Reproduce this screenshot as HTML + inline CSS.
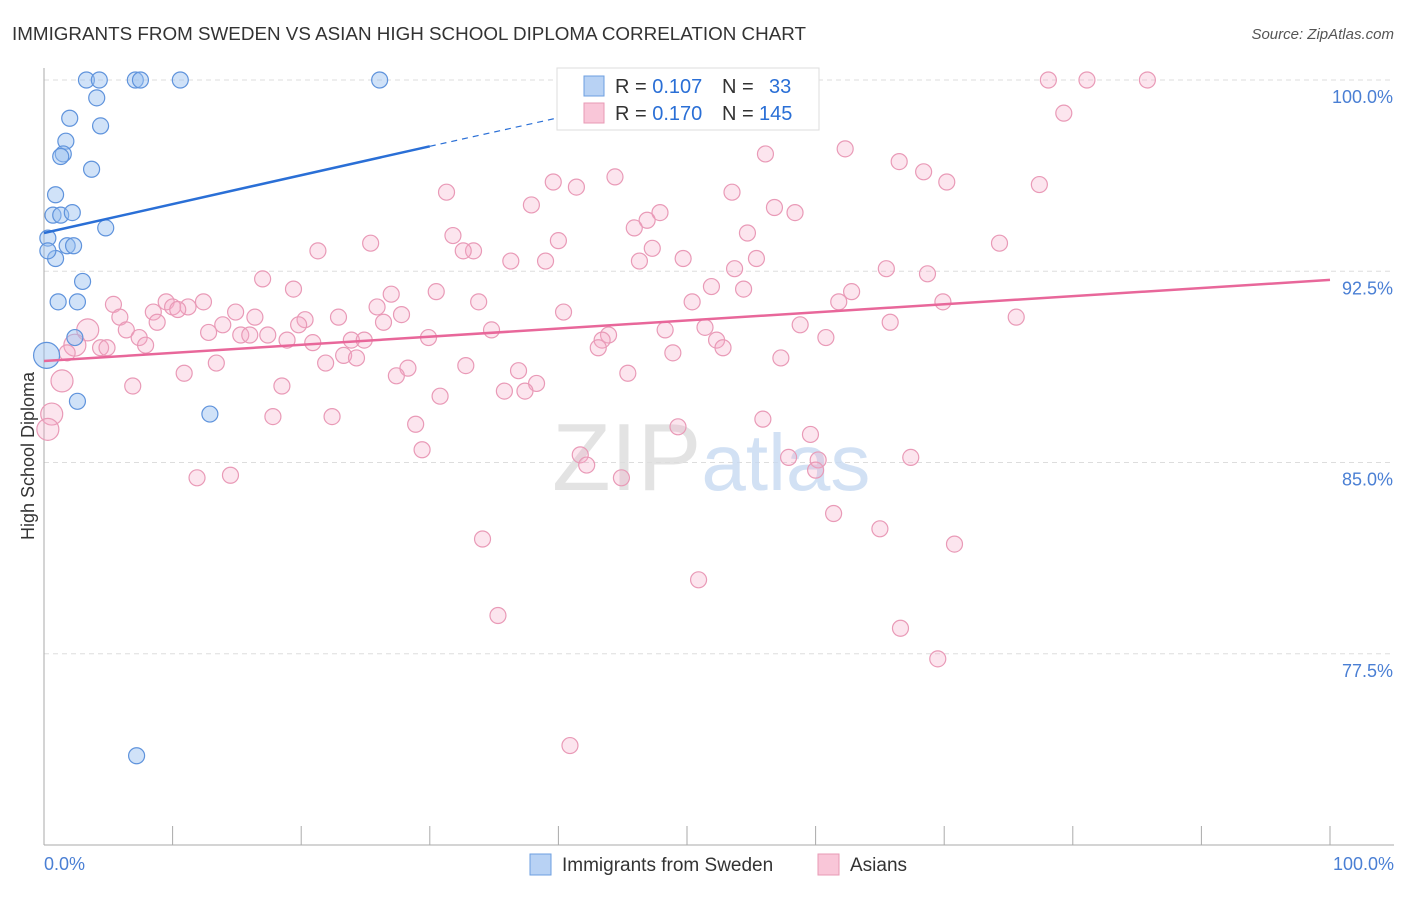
<!DOCTYPE html>
<html><head><meta charset="utf-8"><style>
body{margin:0;background:#fff;font-family:"Liberation Sans",sans-serif;}
svg text{font-family:"Liberation Sans",sans-serif;}
</style></head><body>
<svg id="chart" width="1406" height="892" viewBox="0 0 1406 892" xmlns="http://www.w3.org/2000/svg">
<text x="12" y="40" font-size="18" fill="#333" textLength="794" lengthAdjust="spacingAndGlyphs">IMMIGRANTS FROM SWEDEN VS ASIAN HIGH SCHOOL DIPLOMA CORRELATION CHART</text>
<text x="1394" y="39" font-size="15" fill="#555" text-anchor="end" font-style="italic">Source: ZipAtlas.com</text>
<text transform="translate(34,456) rotate(-90)" font-size="18" fill="#333" text-anchor="middle">High School Diploma</text>
<g id="grid"></g>
<text x="552" y="490" font-size="96" fill="#ddd" font-family="Liberation Serif" opacity="0.8">ZIP<tspan fill="#c8daf2" font-family="Liberation Sans" font-size="80">atlas</tspan></text>
<g id="marks"></g>
<g>
<rect x="557" y="68" width="262" height="62" fill="#fff" stroke="#ddd"/>
<rect x="584" y="76" width="20" height="20" fill="#b8d2f4" stroke="#6d9fe0"/>
<rect x="584" y="103" width="20" height="20" fill="#f9c6d8" stroke="#e89ab5"/>
<text x="615" y="93" font-size="20" fill="#333">R = <tspan fill="#2a6fd6">0.107</tspan><tspan x="722">N = </tspan><tspan x="769" fill="#2a6fd6">33</tspan></text>
<text x="615" y="120" font-size="20" fill="#333">R = <tspan fill="#2a6fd6">0.170</tspan><tspan x="722">N = </tspan><tspan x="759" fill="#2a6fd6">145</tspan></text>
</g>
<g>
<rect x="530" y="854" width="21" height="21" fill="#b8d2f4" stroke="#6d9fe0"/>
<text x="562" y="871" font-size="19" fill="#333">Immigrants from Sweden</text>
<rect x="818" y="854" width="21" height="21" fill="#f9c6d8" stroke="#e89ab5"/>
<text x="850" y="871" font-size="19" fill="#333">Asians</text>
</g>
</svg>
<script>
const yTicks=[100,92.5,85,77.5];
const yTickLabels=["100.0%","92.5%","85.0%","77.5%"];
const xTickLabels=["0.0%","100.0%"];
const blueX=[3.3,4.3,7.1,7.5,10.6,26.1,4.1,2.0,4.4,1.7,1.5,1.3,3.7,0.9,0.7,1.3,2.2,4.8,0.3,1.8,2.3,0.9,0.3,3.0,1.1,2.6,2.4,0.2,2.6,12.9,7.2];
const blueY=[100,100,100,100,100,100,99.3,98.5,98.2,97.6,97.1,97.0,96.5,95.5,94.7,94.7,94.8,94.2,93.8,93.5,93.5,93.0,93.3,92.1,91.3,91.3,89.9,89.2,87.4,86.9,73.5];
const blueBig=[27];
const pinkX=[78.1,81.1,85.8,79.3,56.1,62.3,66.5,68.4,70.2,77.4,44.4,39.6,41.4,31.3,37.9,53.5,56.8,58.4,47.9,46.9,45.9,54.7,31.8,40.0,25.4,74.3,47.3,21.3,33.4,32.6,55.4,49.7,36.3,39.0,46.3,53.7,65.5,68.7,17.0,51.9,54.4,62.8,19.4,30.5,27.0,33.8,50.4,61.8,69.9,5.4,9.5,12.4,10.0,11.2,10.4,25.9,8.5,14.9,40.4,27.8,75.6,5.9,16.4,20.3,22.9,8.8,13.9,26.4,19.8,65.8,58.8,6.4,3.4,12.8,34.8,48.3,51.4,17.4,15.3,16.0,29.9,43.9,60.8,43.4,7.4,18.9,20.9,23.9,24.9,52.3,2.4,4.4,7.9,4.9,43.1,52.8,1.8,23.3,24.3,48.9,57.3,21.9,32.8,13.4,28.3,36.9,10.9,27.4,45.4,1.4,38.3,6.9,18.5,35.8,37.4,30.8,55.9,17.8,22.4,28.9,49.3,59.6,0.6,0.3,29.4,41.7,57.9,67.4,60.2,42.2,60.0,14.5,11.9,44.9,61.4,65.0,34.1,70.8,50.9,35.3,66.6,69.5,40.9];
const pinkY=[100,100,100,98.7,97.1,97.3,96.8,96.4,96.0,95.9,96.2,96.0,95.8,95.6,95.1,95.6,95.0,94.8,94.8,94.5,94.2,94.0,93.9,93.7,93.6,93.6,93.4,93.3,93.3,93.3,93.0,93.0,92.9,92.9,92.9,92.6,92.6,92.4,92.2,91.9,91.8,91.7,91.8,91.7,91.6,91.3,91.3,91.3,91.3,91.2,91.3,91.3,91.1,91.1,91.0,91.1,90.9,90.9,90.9,90.8,90.7,90.7,90.7,90.6,90.7,90.5,90.4,90.5,90.4,90.5,90.4,90.2,90.2,90.1,90.2,90.2,90.3,90.0,90.0,90.0,89.9,90.0,89.9,89.8,89.9,89.8,89.7,89.8,89.8,89.8,89.6,89.5,89.6,89.5,89.5,89.5,89.3,89.2,89.1,89.3,89.1,88.9,88.8,88.9,88.7,88.6,88.5,88.4,88.5,88.2,88.1,88.0,88.0,87.8,87.8,87.6,86.7,86.8,86.8,86.5,86.4,86.1,86.9,86.3,85.5,85.3,85.2,85.2,85.1,84.9,84.7,84.5,84.4,84.4,83.0,82.4,82.0,81.8,80.4,79.0,78.5,77.3,73.9];
const pinkBig=[72,90,109,122,123];
const blueTrend=[[0,94.0],[30,97.4],[42.5,98.8]];
const pinkTrend=[[0,88.98],[100,92.16]];

const NS="http://www.w3.org/2000/svg";
const sx=v=>44+v*12.86;
const sy=v=>80+(100-v)*25.5;
function mk(tag,attrs,parent){const e=document.createElementNS(NS,tag);for(const k in attrs)e.setAttribute(k,attrs[k]);parent.appendChild(e);return e;}
const grid=document.getElementById('grid');
const marks=document.getElementById('marks');
yTicks.forEach((t,i)=>{
  const l=mk('line',{x1:44,x2:1394,y1:sy(t),y2:sy(t),stroke:'#ddd','stroke-dasharray':'5,4'},grid);
  
  
  const tx=mk('text',{x:1393,y:sy(t)+23,'font-size':18,fill:'#4a7fd4','text-anchor':'end'},grid);
  tx.textContent=yTickLabels[i];
  
  
});
const ax=mk('line',{x1:44,x2:44,y1:68,y2:845,stroke:'#aaa'},grid);


const bx=mk('line',{x1:44,x2:1394,y1:845,y2:845,stroke:'#aaa'},grid);


for(let i=0;i<=10;i++){
  const t=mk('line',{x1:sx(i*10),x2:sx(i*10),y1:826,y2:845,stroke:'#aaa'},grid);
  
  
}
[[0,'start',44],[1,'end',1394]].forEach(([i,a,x])=>{
  const t=mk('text',{x:x,y:870,'font-size':18,fill:'#4a7fd4','text-anchor':a},grid);
  t.textContent=xTickLabels[i];
  
  
});
pinkX.forEach((x,i)=>{
  const c=mk('circle',{cx:sx(x),cy:sy(pinkY[i]),r:pinkBig.includes(i)?11:8,fill:'rgba(244,170,198,0.3)',stroke:'#e99ab7','stroke-width':1.2},marks);
  
  
});
blueX.forEach((x,i)=>{
  const c=mk('circle',{cx:sx(x),cy:sy(blueY[i]),r:blueBig.includes(i)?13:8,fill:'rgba(150,190,240,0.45)',stroke:'#5f93dc','stroke-width':1.2},marks);
  
  
});
const pt=mk('line',{x1:sx(pinkTrend[0][0]),y1:sy(pinkTrend[0][1]),x2:sx(pinkTrend[1][0]),y2:sy(pinkTrend[1][1]),stroke:'#e8679a','stroke-width':2.5},marks);


const bt=mk('line',{x1:sx(blueTrend[0][0]),y1:sy(blueTrend[0][1]),x2:sx(blueTrend[1][0]),y2:sy(blueTrend[1][1]),stroke:'#2a6fd6','stroke-width':2.5},marks);


const bd=mk('line',{x1:sx(blueTrend[1][0]),y1:sy(blueTrend[1][1]),x2:sx(blueTrend[2][0]),y2:sy(blueTrend[2][1]),stroke:'#2a6fd6','stroke-width':1.2,'stroke-dasharray':'6,5'},marks);


</script>
</body></html>
